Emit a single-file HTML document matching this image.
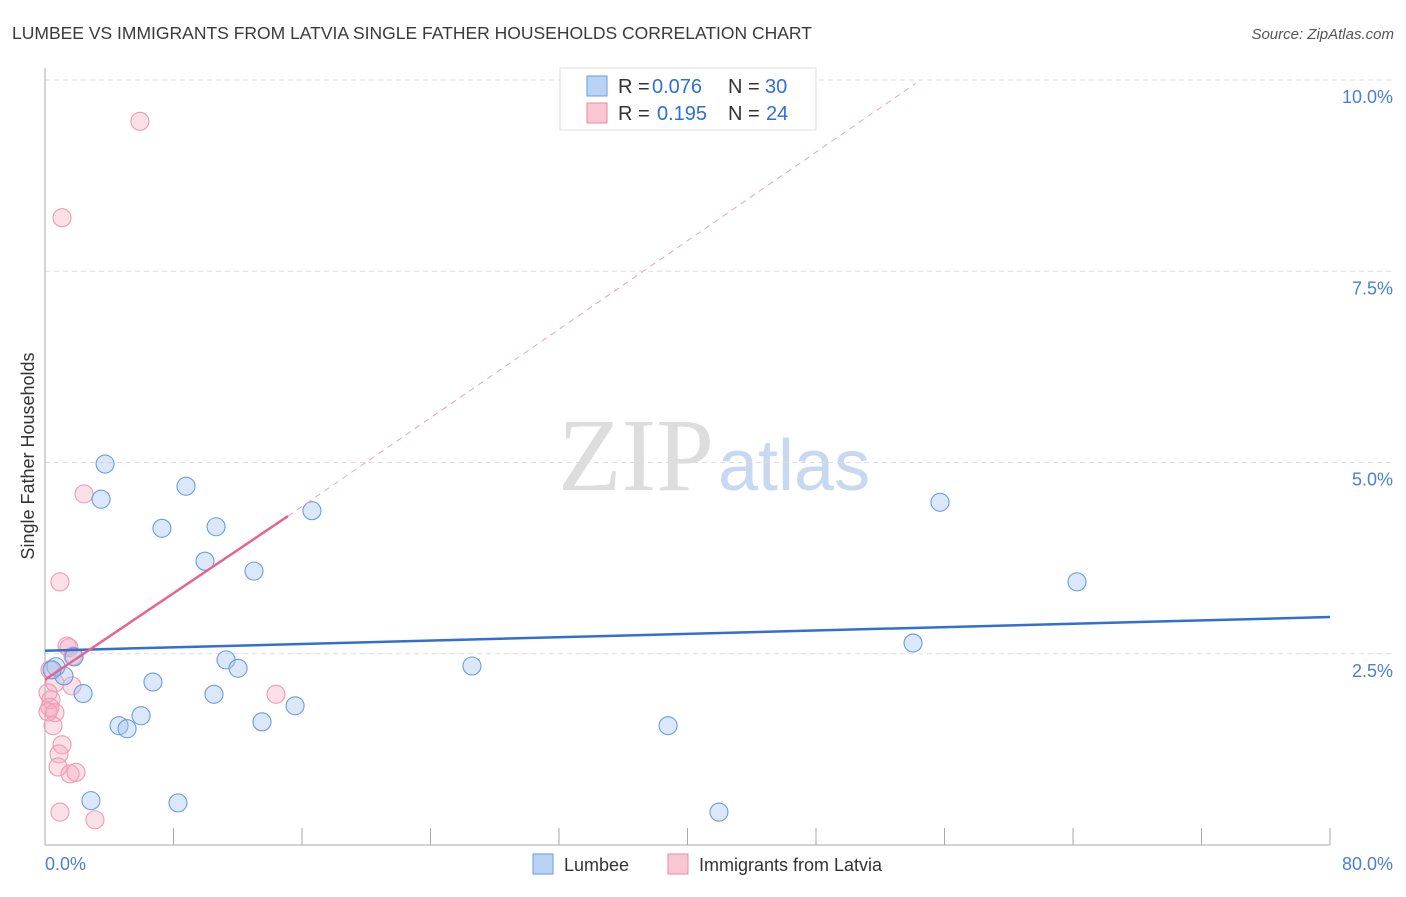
<!DOCTYPE html>
<html><head><meta charset="utf-8"><style>
body{margin:0;background:#fff;font-family:"Liberation Sans",sans-serif}
</style></head><body>
<svg id="c" width="1406" height="892" xmlns="http://www.w3.org/2000/svg">
<text x="12" y="39" font-size="17.5" fill="#3a3a3a">LUMBEE VS IMMIGRANTS FROM LATVIA SINGLE FATHER HOUSEHOLDS CORRELATION CHART</text>
<text x="1394" y="39" font-size="15" fill="#555" font-style="italic" text-anchor="end">Source: ZipAtlas.com</text>
<text x="714" y="490" font-size="104" fill="#ddd" font-family="Liberation Serif,serif" text-anchor="end">ZIP</text>
<text x="718" y="490" font-size="72" fill="#c8d8f0">atlas</text>
<g id="grid"></g><g id="axes"></g><g id="pts"></g><g id="lines"></g>
<text x="34" y="456" font-size="18" fill="#333" text-anchor="middle" transform="rotate(-90 34 456)">Single Father Households</text>
<text x="45" y="870" font-size="18" fill="#4a7fd4">0.0%</text>
<text x="1393" y="870" font-size="18" fill="#4a7fd4" text-anchor="end">80.0%</text>
<g>
<rect x="560" y="68" width="256" height="62" fill="#fff" stroke="#ddd"/>
<rect x="587" y="76" width="20" height="20" fill="#b9d3f5" stroke="#6b9be0"/>
<rect x="587" y="103" width="20" height="20" fill="#f9c6d4" stroke="#e88aa5"/>
<text x="618" y="93" font-size="20" fill="#333">R =</text>
<text x="652" y="93" font-size="20" fill="#2f6fd6">0.076</text>
<text x="728" y="93" font-size="20" fill="#333">N =</text>
<text x="765" y="93" font-size="20" fill="#2f6fd6">30</text>
<text x="618" y="120" font-size="20" fill="#333">R =</text>
<text x="657" y="120" font-size="20" fill="#2f6fd6">0.195</text>
<text x="728" y="120" font-size="20" fill="#333">N =</text>
<text x="766" y="120" font-size="20" fill="#2f6fd6">24</text>
</g>
<g>
<rect x="533" y="854" width="20" height="20" fill="#b9d3f5" stroke="#6b9be0"/>
<text x="564" y="871" font-size="18" fill="#333">Lumbee</text>
<rect x="668" y="854" width="20" height="20" fill="#f9c6d4" stroke="#e88aa5"/>
<text x="699" y="871" font-size="18" fill="#333">Immigrants from Latvia</text>
</g>
</svg>
<script>
const yTicks=[2.5,5,7.5,10];
const yTickLabels=["2.5%","5.0%","7.5%","10.0%"];
const xTicks=[0,8,16,24,32,40,48,56,64,72,80];
const lumbeeX=[3.74,3.49,8.78,7.28,10.65,9.96,13.01,16.62,1.81,1.18,0.68,0.44,2.37,6.72,11.27,12.02,10.52,4.61,5.11,5.98,13.51,15.57,2.86,8.28,26.58,38.79,41.96,54.04,55.72,64.25];
const lumbeeY=[4.98,4.52,4.69,4.14,4.16,3.71,3.58,4.37,2.46,2.21,2.33,2.29,1.98,2.13,2.42,2.31,1.97,1.56,1.52,1.69,1.61,1.82,0.58,0.55,2.34,1.56,0.43,2.64,4.48,3.44];
const latviaX=[5.91,1.06,2.43,0.93,1.37,1.49,1.74,0.31,0.62,1.68,0.19,0.37,0.31,0.62,0.50,1.06,0.87,0.81,1.56,1.93,0.93,3.11,14.38,0.19];
const latviaY=[9.46,8.20,4.59,3.44,2.60,2.58,2.47,2.29,2.12,2.08,1.99,1.90,1.80,1.73,1.56,1.31,1.19,1.02,0.93,0.95,0.43,0.33,1.97,1.74];
const lumbeeTrend=[2.54,2.98];
const latviaTrend=[2.16,0.1414];
const X=v=>45+v*1285/80, Y=v=>845-v*76.5;
const NS="http://www.w3.org/2000/svg";
function mk(p,t,a){const e=document.createElementNS(NS,t);for(const k in a)e.setAttribute(k,a[k]);p.appendChild(e);return e;}
const g=document.getElementById('grid'),ax=document.getElementById('axes'),pts=document.getElementById('pts'),ln=document.getElementById('lines');
yTicks.forEach((t,i)=>{
 const l=mk(g,'line',{x1:45,x2:1395,y1:Y(t),y2:Y(t),stroke:'#ddd','stroke-dasharray':'5,4'});
 
 
 const tx=mk(g,'text',{x:1393,y:Y(t)+23,'font-size':18,fill:'#4a7fd4','text-anchor':'end'});
 tx.textContent=yTickLabels[i];
 
 
});
const ya=mk(ax,'line',{x1:45,x2:45,y1:68,y2:845,stroke:'#aaa'});


const xa=mk(ax,'line',{x1:45,x2:1330,y1:845,y2:845,stroke:'#aaa'});


xTicks.forEach(t=>{
 const l=mk(ax,'line',{x1:X(t),x2:X(t),y1:828,y2:845,stroke:'#aaa'});
 
 
});
latviaX.forEach((x,i)=>{
 const c=mk(pts,'circle',{cx:X(x),cy:Y(latviaY[i]),r:9,fill:'rgba(244,165,190,0.35)',stroke:'#ee9ab3','stroke-width':1.1});
 
 
});
lumbeeX.forEach((x,i)=>{
 const c=mk(pts,'circle',{cx:X(x),cy:Y(lumbeeY[i]),r:9,fill:'rgba(165,198,240,0.4)',stroke:'#6a9ce0','stroke-width':1.1});
 
 
});
const bl=mk(ln,'line',{x1:X(0),y1:Y(lumbeeTrend[0]),x2:X(80),y2:Y(lumbeeTrend[1]),stroke:'#2f6fd6','stroke-width':2.5});


const xe=15.13, xd=54.2;
const pd=mk(ln,'line',{x1:X(xe),y1:Y(latviaTrend[0]+latviaTrend[1]*xe),x2:X(xd),y2:Y(latviaTrend[0]+latviaTrend[1]*xd)-10,stroke:'#eba3b8','stroke-width':1,'stroke-dasharray':'6,5'});


const pl=mk(ln,'line',{x1:X(0),y1:Y(latviaTrend[0]),x2:X(xe),y2:Y(latviaTrend[0]+latviaTrend[1]*xe),stroke:'#e8648f','stroke-width':2.5});


</script>
</body></html>
